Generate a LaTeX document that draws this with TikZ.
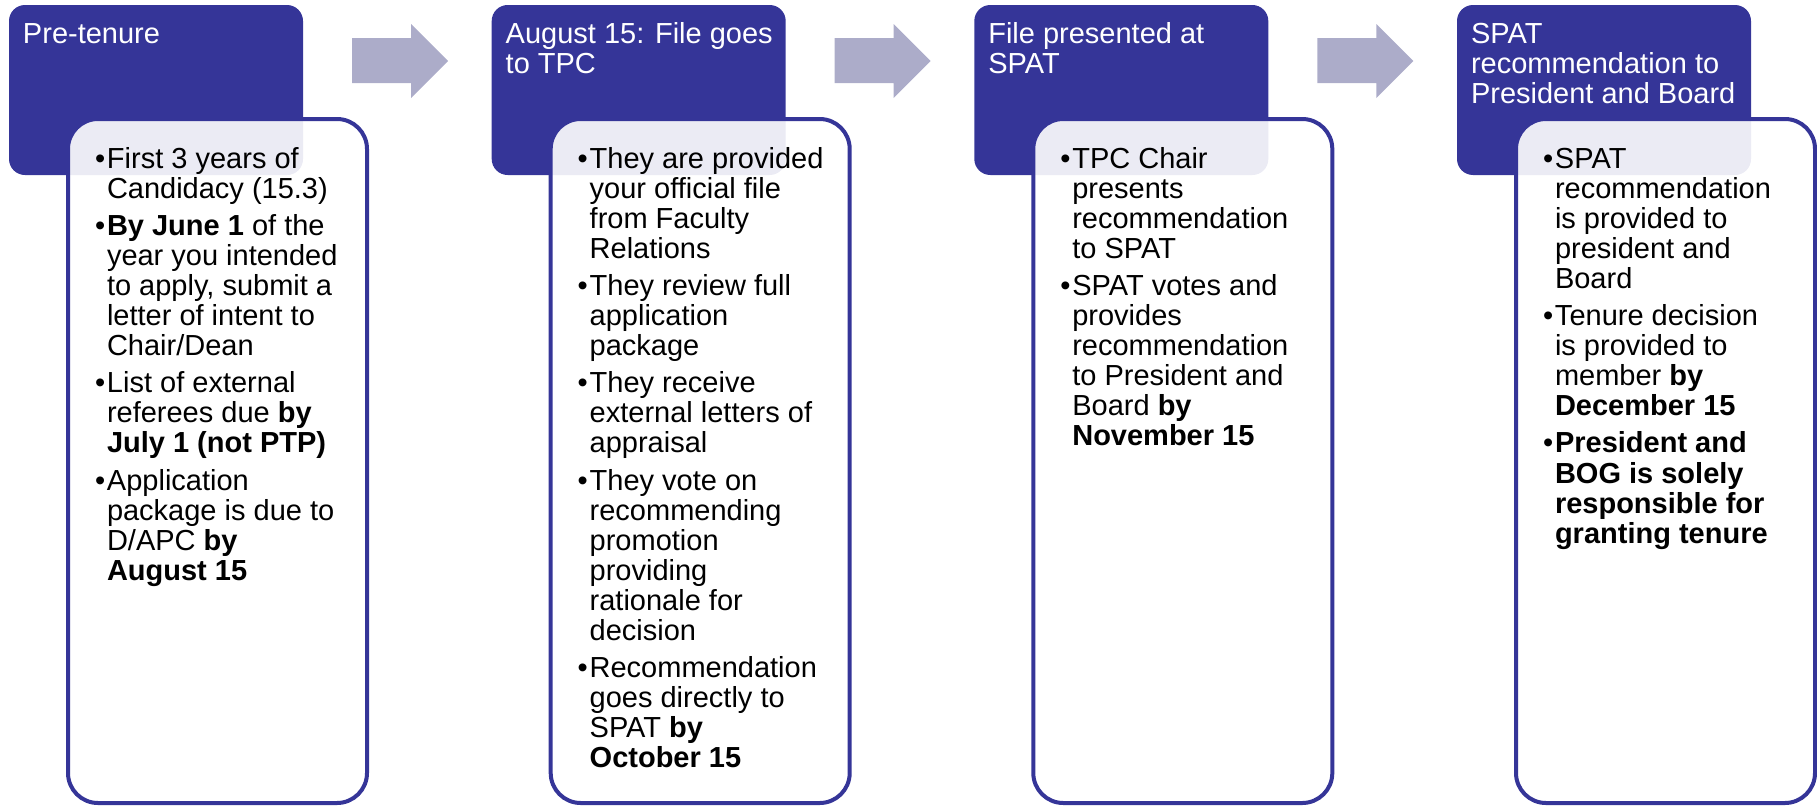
\documentclass[tikz,border=0pt]{standalone}
\usepackage{fontspec}
\setmainfont{Liberation Sans}
\usetikzlibrary{calc}
\definecolor{navy}{RGB}{53,53,152}
\definecolor{arrowc}{RGB}{172,172,201}
\newcommand\bodyfont{\fontsize{29}{30.1}\selectfont}
\newcommand\bi{\par\addvspace{7pt}\hangindent=12pt\hangafter=1\noindent\makebox[12pt][l]{\textbullet}}
\newenvironment{btext}{\begin{minipage}[t]{300pt}\bodyfont\raggedright}{\end{minipage}}
\begin{document}
\begin{tikzpicture}[x=1pt,y=-1pt,
  hdr/.style={draw=none, fill=navy, rounded corners=16pt, minimum width=294pt, minimum height=170pt, anchor=north west, inner sep=0pt, outer sep=0pt},
  bdy/.style={draw=navy, line width=4pt, fill=white, fill opacity=0.9, rounded corners=30pt, minimum width=299pt, minimum height=684pt, anchor=north west, inner sep=0pt, outer sep=0pt},
  txt/.style={anchor=base west, inner sep=0pt, outer sep=0pt},
  htxt/.style={txt, text=white},
  arr/.style={fill=arrowc, draw=none}]
\useasboundingbox (0,0) rectangle (1817,806);
\foreach \i/\xo in {1/9, 2/491.7, 3/974.3, 4/1457} {
  \node[hdr] (h\i) at (\xo,5) {};
  \node[bdy] (b\i) at (\xo+59,119) {};
}
\foreach \i in {1,2,3} {
  \fill[arr] ($(h\i.north east)+(49,33)$) -- ($(h\i.north east)+(108,33)$)
    -- ($(h\i.north east)+(108,19)$) -- ($(h\i.north east)+(145,56)$)
    -- ($(h\i.north east)+(108,93)$) -- ($(h\i.north east)+(108,78)$)
    -- ($(h\i.north east)+(49,78)$) -- cycle;
}
% header texts
\node[htxt] (t1) at ($(h1.north west)+(14,38)$) {\begin{btext}Pre-tenure\end{btext}};
\node[htxt] (t2) at ($(h2.north west)+(14,38)$) {\begin{btext}August 15: File goes\newline to TPC\end{btext}};
\node[htxt] (t3) at ($(h3.north west)+(14,38)$) {\begin{btext}File presented at\newline SPAT\end{btext}};
\node[htxt] (t4) at ($(h4.north west)+(14,38)$) {\begin{btext}SPAT\newline recommendation to\newline President and Board\end{btext}};
% body texts
\node[txt] (c1) at ($(h1.north west)+(86,163)$) {\begin{btext}
\bi First 3 years of\newline Candidacy (15.3)
\bi \textbf{By June 1} of the\newline year you intended\newline to apply, submit a\newline letter of intent to\newline Chair/Dean
\bi List of external\newline referees due \textbf{by}\newline \textbf{July 1 (not PTP)}
\bi Application\newline package is due to\newline D/APC \textbf{by}\newline \textbf{August 15}
\end{btext}};
\node[txt] (c2) at ($(h2.north west)+(86,163)$) {\begin{btext}
\bi They are provided\newline your official file\newline from Faculty\newline Relations
\bi They review full\newline application\newline package
\bi They receive\newline external letters of\newline appraisal
\bi They vote on\newline recommending\newline promotion\newline providing\newline rationale for\newline decision
\bi Recommendation\newline goes directly to\newline SPAT \textbf{by}\newline \textbf{October 15}
\end{btext}};
\node[txt] (c3) at ($(h3.north west)+(86,163)$) {\begin{btext}
\bi TPC Chair\newline presents\newline recommendation\newline to SPAT
\bi SPAT votes and\newline provides\newline recommendation\newline to President and\newline Board \textbf{by}\newline \textbf{November 15}
\end{btext}};
\node[txt] (c4) at ($(h4.north west)+(86,163)$) {\begin{btext}
\bi SPAT\newline recommendation\newline is provided to\newline president and\newline Board
\bi Tenure decision\newline is provided to\newline member \textbf{by}\newline \textbf{December 15}
\bi \textbf{President and\newline BOG is solely\newline responsible for\newline granting tenure}
\end{btext}};
\end{tikzpicture}
\end{document}
